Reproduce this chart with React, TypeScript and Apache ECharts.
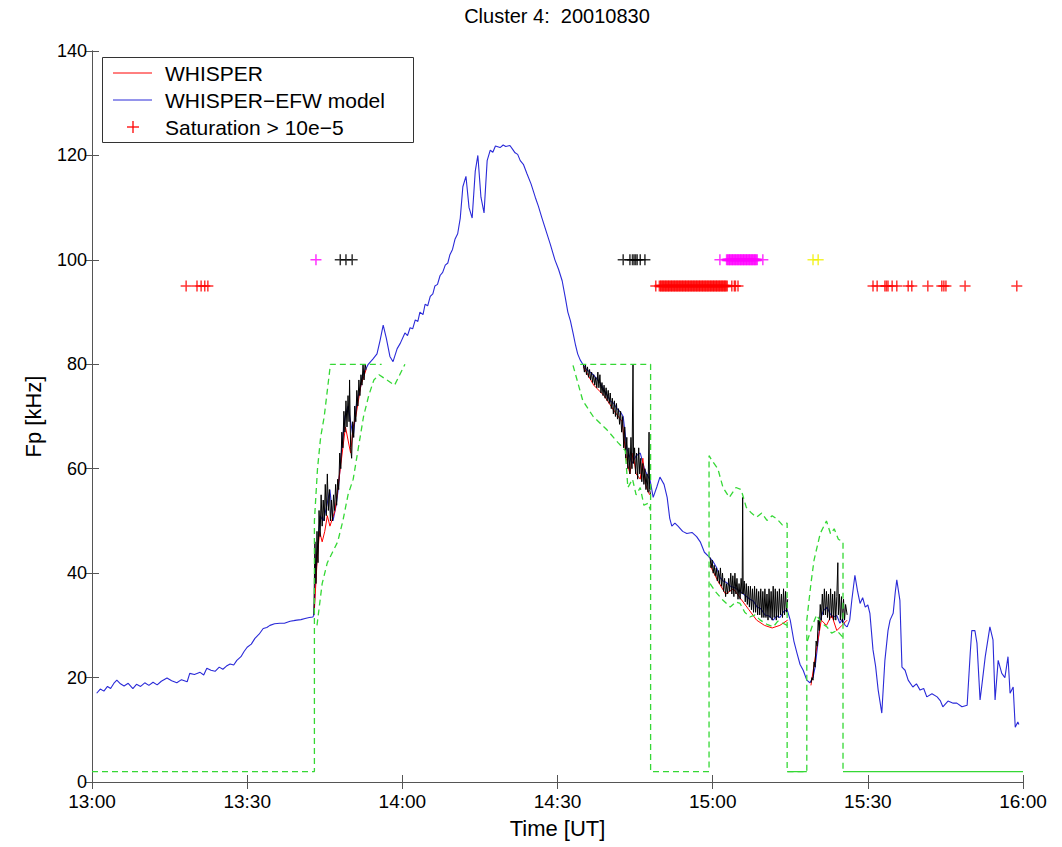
import React, { useEffect, useRef } from "react";
import * as echarts from "echarts";

// time in minutes after 13:00 UT, value in kHz
const xTicks = ["13:00", "13:30", "14:00", "14:30", "15:00", "15:30", "16:00"];

const blueModel: number[][] = [
  [0.9, 17.0], [1.6, 17.8], [2.3, 17.4], [3.0, 18.3], [3.6, 17.9], [4.3, 19.0], [4.8, 19.5], [5.5, 18.8],
  [6.2, 18.4], [7.0, 18.9], [7.9, 17.9], [8.6, 18.7], [9.4, 18.3], [10.2, 19.0], [11.0, 18.5], [11.8, 19.1],
  [12.6, 18.6], [13.4, 19.3], [14.5, 19.9], [15.4, 19.4], [16.4, 19.0], [17.3, 19.6], [18.4, 19.2], [18.9, 20.8],
  [19.8, 20.6], [20.9, 21.0], [21.6, 20.5], [22.2, 21.8], [23.0, 21.4], [23.8, 21.2], [24.6, 22.0], [25.3, 21.6],
  [26.0, 22.2], [26.7, 22.6], [27.4, 22.4], [28.0, 23.3], [28.8, 24.0], [29.4, 25.0], [30.0, 25.8], [30.8, 26.4],
  [31.5, 27.5], [32.3, 28.3], [33.1, 29.4], [33.8, 29.6], [34.4, 30.0], [35.3, 30.3], [36.3, 30.4], [37.2, 30.4],
  [38.3, 30.8], [39.0, 30.9], [39.6, 31.0], [40.4, 31.1], [41.2, 31.3], [42.0, 31.5], [42.7, 31.6],
  [42.9, 32], [43.3, 40], [43.7, 45], [44.1, 51], [44.7, 50], [45.2, 52], [46.0, 56], [46.6, 50], [47.2, 53],
  [47.6, 56], [48.3, 64], [48.9, 70], [49.5, 72], [50.5, 66], [51.2, 73], [51.8, 75], [52.4, 78], [53.4, 80],
  [54.3, 81], [55.1, 82], [55.7, 84.6], [56.3, 87.5], [56.9, 85], [57.6, 81.5], [58.2, 80.5], [59.0, 83],
  [59.6, 84], [60.5, 86], [61.0, 85.5], [61.5, 87], [62.0, 86.8], [62.5, 88.5], [63.0, 88.2], [63.4, 90],
  [64.0, 89.5], [64.4, 91.5], [64.9, 91.2], [65.4, 93], [65.9, 93.5], [66.3, 95], [66.8, 95.3], [67.3, 97],
  [67.8, 97.6], [68.3, 99], [68.8, 99.4], [69.2, 101], [69.7, 102], [70.2, 104], [70.7, 105], [71.2, 108],
  [71.7, 114], [72.3, 116], [72.9, 110], [73.5, 108], [74.1, 117], [74.6, 120], [75.2, 112], [75.8, 109],
  [76.4, 119], [77.0, 121], [77.5, 120.6], [78.0, 121.8], [78.9, 121.5], [79.5, 122], [80.0, 121.7],
  [80.8, 121.9], [81.3, 121.2], [81.8, 120.5], [82.3, 120.2], [82.8, 119], [83.4, 118.3], [84.1, 116.5],
  [84.9, 114.5], [85.7, 112], [86.3, 110.3], [87.0, 108], [87.8, 105.5], [88.6, 103], [89.5, 100], [90.2, 98.2],
  [90.9, 96], [91.5, 92.8], [92.0, 90], [92.5, 88.3], [93.0, 86], [93.5, 83.6], [93.9, 82], [94.4, 80.8],
  [94.9, 80], [95.6, 79], [96.3, 78.5], [96.9, 78], [97.6, 77.2], [98.2, 76.5], [99.2, 74.8], [100.2, 73],
  [100.9, 72.5], [101.5, 71.5], [102.2, 70.8], [102.7, 70], [103.4, 64], [104.4, 61], [105.2, 62.5],
  [106.0, 63], [106.9, 59.7], [107.9, 57.8], [108.5, 54.5], [109.2, 56.5], [109.8, 58.4], [110.6, 57],
  [111.2, 54.5], [111.7, 50.5], [112.1, 49], [112.7, 49.6], [113.3, 49], [114.2, 48], [115.0, 47.6],
  [116.0, 47.8], [116.9, 47], [117.6, 46], [118.4, 44], [119.4, 43], [120.1, 42.2], [120.8, 41], [121.4, 39.2],
  [122.0, 38.5], [122.7, 38.2], [123.4, 37.5], [124.3, 37.2], [125.3, 36.5], [126.2, 35.8], [127.2, 35],
  [127.9, 34.6], [128.6, 33.5], [129.3, 33.2], [130.1, 32], [130.9, 31.8], [131.7, 31], [132.4, 31.8],
  [133.0, 31.5], [133.7, 32.6], [134.4, 33], [135.0, 31], [135.7, 27], [136.3, 24.7], [136.9, 22.5],
  [137.5, 21.4], [138.2, 19.5], [138.8, 19], [139.4, 20], [139.8, 22], [140.4, 27], [140.8, 31], [141.4, 32.8],
  [142.1, 33.5], [142.7, 32.2], [143.3, 31.6], [144.0, 31.9], [144.6, 30.4], [145.1, 31.2], [145.6, 30],
  [146.0, 29.7], [146.5, 31], [146.9, 34.8], [147.5, 39.6], [148.0, 36.6], [148.5, 34.2], [149.0, 35.3],
  [149.5, 33.5], [150.0, 33.9], [150.4, 32.3], [151.0, 25.3], [151.5, 22.2], [152.0, 17.6], [152.7, 13.2],
  [153.3, 23.3], [153.9, 29], [154.3, 31], [154.9, 32.3], [155.3, 36.3], [155.6, 38.7], [156.2, 34.8],
  [156.6, 22], [157.2, 21.4], [157.8, 19.5], [158.7, 18.2], [159.4, 18.8], [160.1, 17.6], [160.8, 17.9],
  [161.4, 16.3], [162.4, 16.9], [163.4, 16.3], [164.0, 15.6], [164.5, 14.4], [165.5, 15.5], [166.5, 15.1],
  [167.2, 15.1], [168.2, 14.4], [169.2, 14.7], [169.8, 24.7], [170.1, 29], [170.7, 29], [171.1, 26.6],
  [171.7, 15.7], [172.2, 19.8], [172.7, 24], [173.6, 29.7], [174.2, 27.2], [174.6, 15.7], [175.2, 23.3],
  [175.9, 20.8], [176.5, 20], [177.1, 24], [177.5, 17], [178.1, 18.2], [178.5, 10.5], [179.0, 11.5], [179.2, 11],
];

const redWhisper: number[][][] = [
  [[43, 33], [43.5, 42], [44, 48], [44.5, 46], [45, 48], [45.5, 51], [46, 49], [47, 52], [48, 60], [49, 68],
   [50, 63], [50.5, 68], [51, 70], [52, 76], [53, 79]],
  [[95, 79.5], [97, 76], [99, 74], [101, 71], [102.5, 69], [103.3, 62], [104, 59], [104.6, 63], [105.2, 59],
   [106, 58], [106.5, 62], [107, 57], [107.8, 55]],
  [[119.5, 41.5], [121, 38.5], [122.5, 36], [124, 37], [125.5, 35], [127, 33], [128.5, 31], [130, 30],
   [131.5, 29.5], [133, 30], [134.5, 31]],
  [[139, 18.5], [140, 25], [141, 31], [142, 30], [143, 32], [144, 29], [145, 30], [146, 31]],
];

const blackWhisper: number[][][] = [
  [[42.9, 32], [43.1, 46], [43.3, 38], [43.5, 48], [43.7, 42], [43.9, 52], [44.1, 47], [44.3, 55], [44.5, 49],
   [44.7, 54], [44.9, 50], [45.1, 57], [45.3, 51], [45.5, 59], [45.7, 52], [45.9, 56], [46.1, 50], [46.3, 54],
   [46.5, 50], [46.7, 55], [46.9, 52], [47.1, 57], [47.3, 53], [47.5, 58], [47.7, 56], [47.9, 63], [48.1, 60],
   [48.3, 67], [48.5, 64], [48.7, 71], [48.9, 67], [49.1, 73], [49.3, 68], [49.5, 74], [49.7, 69], [49.8, 77],
   [50.0, 64], [50.2, 62], [50.4, 69], [50.6, 66], [50.8, 72], [51.0, 69], [51.2, 75], [51.4, 72], [51.6, 77],
   [51.8, 74], [52.0, 78], [52.2, 76], [52.4, 80], [52.6, 77], [52.8, 80], [53.0, 79]],
  [[95, 80], [95.2, 78.5], [95.4, 80], [95.6, 78], [95.8, 79.5], [96.0, 77.5], [96.2, 79], [96.4, 77],
   [96.6, 78.5], [96.8, 76.5], [97.0, 78], [97.2, 76], [97.4, 77.5], [97.6, 75.5], [97.8, 78.5], [98.0, 75.5],
   [98.2, 78], [98.4, 74.5], [98.6, 76.5], [98.8, 74], [99.0, 76], [99.2, 73.5], [99.4, 75.5], [99.6, 73],
   [99.8, 75], [100.0, 72.5], [100.2, 74.5], [100.4, 71.5], [100.6, 73.5], [100.8, 70.5], [101.0, 73],
   [101.2, 70], [101.4, 72.5], [101.6, 69.5], [101.8, 71.5], [102.0, 68.5], [102.2, 71], [102.4, 67],
   [102.6, 70], [102.8, 64], [103.0, 68], [103.2, 62], [103.4, 66], [103.6, 60], [103.8, 64], [104.0, 59],
   [104.2, 66], [104.4, 60], [104.6, 80], [104.7, 61], [104.9, 64], [105.1, 59], [105.3, 63], [105.5, 58],
   [105.7, 64], [105.9, 59], [106.1, 62], [106.3, 57.5], [106.5, 61], [106.7, 57], [106.9, 60], [107.1, 56],
   [107.3, 59], [107.5, 55.5], [107.7, 67], [107.8, 56], [108, 55]],
  [[119.5, 43], [119.7, 41], [119.9, 42.5], [120.1, 40], [120.3, 41.5], [120.5, 39.5], [120.7, 41], [120.9, 38.5],
   [121.1, 40.5], [121.3, 38], [121.5, 41], [121.7, 37.5], [121.9, 40], [122.1, 36.5], [122.3, 39], [122.5, 35.5],
   [122.7, 38], [122.9, 36], [123.1, 39], [123.3, 36.5], [123.5, 40], [123.7, 36], [123.9, 39.5], [124.1, 35.5],
   [124.3, 40], [124.5, 36], [124.7, 39], [124.9, 35], [125.1, 38], [125.3, 35], [125.5, 39], [125.7, 36],
   [125.8, 54.5], [125.9, 36], [126.1, 38.5], [126.3, 34.5], [126.5, 38], [126.7, 34], [126.9, 37.5], [127.1, 33.5],
   [127.3, 37.5], [127.5, 33], [127.7, 37], [127.9, 32.5], [128.1, 37.5], [128.3, 32.5], [128.5, 37], [128.7, 32],
   [128.9, 36.5], [129.1, 32], [129.3, 37], [129.5, 31.5], [129.7, 36.5], [129.9, 31.5], [130.1, 37], [130.3, 31.5],
   [130.5, 36], [130.7, 31], [130.9, 37], [131.1, 31.5], [131.3, 36.5], [131.5, 31], [131.7, 37.5], [131.9, 31.5],
   [132.1, 37], [132.3, 31], [132.5, 36.5], [132.7, 31.5], [132.9, 37], [133.1, 32], [133.3, 36], [133.5, 31.5],
   [133.7, 37], [133.9, 32], [134.1, 36.5], [134.3, 32.5], [134.5, 35]],
  [[139, 19], [139.2, 20], [139.4, 19.5], [139.6, 23], [139.8, 22], [140, 27], [140.2, 26], [140.4, 31],
   [140.6, 29], [140.8, 34], [141.0, 31], [141.2, 36], [141.4, 32], [141.6, 37], [141.8, 32], [142.0, 36.5],
   [142.2, 31.5], [142.4, 36], [142.6, 31], [142.8, 37], [143.0, 31.5], [143.2, 36], [143.4, 31], [143.6, 36.5],
   [143.8, 31], [144.0, 35.5], [144.2, 42], [144.3, 32], [144.5, 36], [144.7, 31], [144.9, 35.5], [145.1, 30.5],
   [145.3, 35], [145.5, 31], [145.7, 34], [146, 32]],
];

const greenUpper: number[][][] = [
  [[0, 2], [43, 2], [43, 50], [43.6, 60], [44.2, 66], [44.9, 70], [45.5, 75], [46.1, 80], [56, 80]],
  [[94.4, 80], [108, 80], [108, 2], [119.3, 2], [119.3, 62.5], [119.9, 61.5], [121, 60], [122, 56.4],
   [123.2, 54.5], [124.5, 56.4], [125.5, 56], [126.5, 52.6], [127.5, 51.5], [128.5, 50.7], [129.5, 51.5],
   [130.5, 50.1], [131.5, 51], [132.5, 50.3], [133.5, 49.2], [134.4, 49.6], [134.4, 2], [138.2, 2],
   [138.2, 31], [139, 38], [139.6, 42.5], [140.8, 47.6], [141.5, 49], [142, 50], [142.8, 47.5], [143.5, 48.5],
   [144.3, 46.5], [145.2, 46], [145.2, 2]],
];

const greenLower: number[][][] = [
  [[43.5, 30], [44.5, 38], [45.5, 42], [46.5, 44], [47.5, 46], [48.5, 50], [49.5, 55], [50.5, 58], [51.5, 64],
   [52.5, 70], [53.5, 74], [54.5, 77], [55.5, 78], [57, 77], [58.5, 76], [59.5, 78], [60.5, 80]],
  [[93.0, 79.8], [94.9, 73], [96.9, 70], [99.6, 67.4], [101.7, 65], [103.1, 63.5], [103.6, 56.4], [104.5, 58],
   [105.2, 55], [106, 56.4], [106.7, 53], [107.5, 53.4], [108, 52]],
  [[119.5, 38], [120.5, 36.5], [122, 34.8], [123.4, 33.5], [124.5, 34.5], [125.3, 34.2], [126.2, 32.5],
   [127.2, 31.6], [128.2, 32], [129.2, 31], [130.5, 30.2], [131.7, 29.7], [132.6, 30.8], [133.6, 30.4], [134.4, 30]],
  [[138.3, 27], [139.3, 30], [140.1, 32], [141, 30.5], [142.1, 29.7], [143, 28.5], [144, 29], [145.2, 27.7]],
];

const greenFlag: number[][][] = [
  [[134.4, 2], [138.2, 2]],
  [[145.2, 2], [180, 2]],
];

const redSatTimes = [
  18.2, 20.3, 21.1, 21.8, 22.4, 109.0, 123.7, 124.2, 124.4, 124.9,
  151.0, 151.8, 153.3, 153.6, 153.9, 154.7, 155.6, 157.8, 158.5, 161.6, 164.3, 164.7, 165.1, 168.8, 178.8,
];
const redSatDense = [
  109.8, 110.1, 110.4, 110.7, 111.0, 111.3, 111.6, 111.9, 112.2, 112.5, 112.8, 113.1, 113.4, 113.7, 114.0,
  114.3, 114.6, 114.9, 115.2, 115.5, 115.8, 116.1, 116.4, 116.7, 117.0, 117.3, 117.6, 117.9, 118.2, 118.5,
  118.8, 119.1, 119.4, 119.7, 120.0, 120.3, 120.6, 120.9, 121.2, 121.5, 121.8, 122.1, 122.4, 122.7,
];
const magentaTimes = [43.3, 121.4, 129.7];
const magentaDense = [
  122.8, 123.1, 123.4, 123.7, 124.0, 124.3, 124.6, 124.9, 125.2, 125.5, 125.8, 126.1, 126.4, 126.7, 127.0,
  127.3, 127.6, 127.9, 128.2, 128.5,
];
const blackTimes = [48.0, 49.1, 50.3, 102.7, 104.0, 104.5, 104.8, 105.1, 105.4, 106.0, 106.9];
const yellowTimes = [139.4, 140.4];

const FONT = "'Liberation Sans', Arial, Helvetica, sans-serif";
const PLUS = "path://M0,5L10,5M5,0L5,10";
const GREEN = "#35d835";

function fmtTime(v: number): string {
  const idx = Math.round(v / 30);
  return xTicks[idx] ?? "";
}

export default function App() {
  const ref = useRef<HTMLDivElement>(null);
  useEffect(() => {
    if (!ref.current) return;
    const chart = echarts.init(ref.current, undefined, { renderer: "svg" });
    const axisColor = "#555";
    const lineSeries = (segs: number[][][], color: string, type: any, width: number, name: string) =>
      segs.map((d) => ({
        type: "line",
        name,
        data: d,
        showSymbol: false,
        symbol: "none",
        lineStyle: { color, width, type },
        silent: true,
        z: 2,
      }));
    const plusSeries = (times: number[], level: number, color: string, bw: number) => ({
      type: "scatter",
      data: times.map((t) => [t, level]),
      symbol: PLUS,
      symbolSize: 11,
      itemStyle: { color: "rgba(0,0,0,0)", borderColor: color, borderWidth: bw },
      silent: true,
      z: 5,
    });
    const baseX = {
      type: "value",
      min: 0,
      max: 180,
      interval: 30,
      axisLine: { show: true, lineStyle: { color: axisColor, width: 1 } },
      axisTick: { show: true, inside: true, length: 7, lineStyle: { color: axisColor } },
      splitLine: { show: false },
    };
    const baseY = {
      type: "value",
      min: 0,
      max: 140,
      interval: 20,
      axisLine: { show: true, lineStyle: { color: axisColor, width: 1 } },
      axisTick: { show: true, inside: true, length: 7, lineStyle: { color: axisColor } },
      splitLine: { show: false },
    };
    chart.setOption({
      animation: false,
      backgroundColor: "#fff",
      grid: { left: 92, right: 39, top: 51, bottom: 65 },
      xAxis: [
        {
          ...baseX,
          position: "bottom",
          axisLabel: { formatter: fmtTime, color: "#000", fontSize: 19, fontFamily: FONT, margin: 10 },
          name: "Time [UT]",
          nameLocation: "middle",
          nameGap: 35,
          nameTextStyle: { color: "#000", fontSize: 22, fontFamily: FONT },
        },
        { ...baseX, position: "top", axisLabel: { show: false } },
      ],
      yAxis: [
        {
          ...baseY,
          position: "left",
          axisLabel: { color: "#000", fontSize: 18, fontFamily: FONT, margin: 5 },
          name: "Fp [kHz]",
          nameLocation: "middle",
          nameGap: 48,
          nameTextStyle: { color: "#000", fontSize: 22, fontFamily: FONT },
        },
        { ...baseY, position: "right", axisLabel: { show: false } },
      ],
      series: [
        {
          type: "line",
          name: "WHISPER-EFW model",
          data: blueModel,
          showSymbol: false,
          symbol: "none",
          lineStyle: { color: "#2a2ad8", width: 1.1 },
          silent: true,
          z: 2,
        },
        ...lineSeries(redWhisper, "#ff0000", "solid", 1, "WHISPER"),
        ...lineSeries(blackWhisper, "#000000", "solid", 1, "WHISPER fine"),
        ...lineSeries(greenUpper, GREEN, [6, 4], 1.3, "upper"),
        ...lineSeries(greenLower, GREEN, [6, 4], 1.3, "lower"),
        ...lineSeries(greenFlag, GREEN, "solid", 1.3, "flag"),
        plusSeries(redSatTimes, 95, "#ff0000", 1.5),
        plusSeries(redSatDense, 95, "#ff0000", 2.6),
        plusSeries(magentaTimes, 100, "#ff00ff", 1.5),
        plusSeries(magentaDense, 100, "#ff00ff", 2.6),
        plusSeries(blackTimes, 100, "#000000", 1.5),
        plusSeries(yellowTimes, 100, "#f0f000", 1.5),
      ],
      graphic: [
        {
          type: "text",
          x: 557,
          y: 16,
          style: { text: "Cluster 4:  20010830", fill: "#000", font: `20px ${FONT}`, align: "center", verticalAlign: "middle" },
        },
        {
          type: "rect",
          shape: { x: 102.5, y: 57.5, width: 311, height: 85 },
          style: { fill: "#fff", stroke: "#333", lineWidth: 1 },
          z: 100,
        },
        { type: "line", shape: { x1: 113, y1: 73, x2: 152, y2: 73 }, style: { stroke: "#ff0000", lineWidth: 1 }, z: 101 },
        { type: "line", shape: { x1: 113, y1: 100, x2: 152, y2: 100 }, style: { stroke: "#2a2ad8", lineWidth: 1 }, z: 101 },
        { type: "line", shape: { x1: 127, y1: 127, x2: 139, y2: 127 }, style: { stroke: "#ff0000", lineWidth: 1.3 }, z: 101 },
        { type: "line", shape: { x1: 133, y1: 121, x2: 133, y2: 133 }, style: { stroke: "#ff0000", lineWidth: 1.3 }, z: 101 },
        { type: "text", x: 165, y: 73, style: { text: "WHISPER", fill: "#000", font: `21px ${FONT}`, verticalAlign: "middle" }, z: 101 },
        { type: "text", x: 165, y: 100, style: { text: "WHISPER\u2212EFW model", fill: "#000", font: `21px ${FONT}`, verticalAlign: "middle" }, z: 101 },
        { type: "text", x: 165, y: 127, style: { text: "Saturation > 10e\u22125", fill: "#000", font: `21px ${FONT}`, verticalAlign: "middle" }, z: 101 },
      ],
    });
    return () => chart.dispose();
  }, []);
  return (
    <div
      ref={ref}
      style={{ position: "fixed", left: 0, top: 0, width: 1062, height: 847, background: "#fff" }}
    />
  );
}
